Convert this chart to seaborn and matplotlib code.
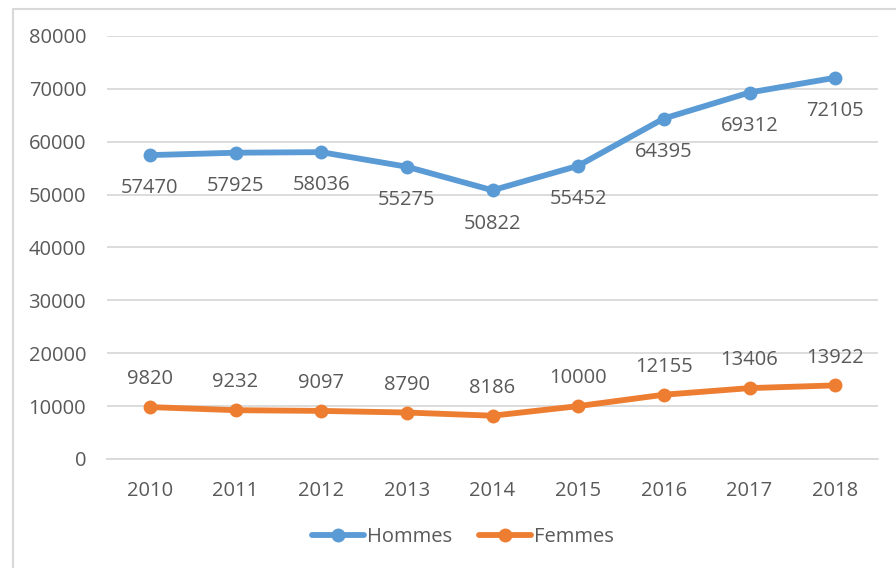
import pandas as pd
import seaborn as sns
import matplotlib.pyplot as plt
from matplotlib.patches import Rectangle

# Data
annees = [2010, 2011, 2012, 2013, 2014, 2015, 2016, 2017, 2018]
hommes = [57470, 57925, 58036, 55275, 50822, 55452, 64395, 69312, 72105]
femmes = [9820, 9232, 9097, 8790, 8186, 10000, 12155, 13406, 13922]

df = pd.DataFrame({
    "annee": annees * 2,
    "valeur": hommes + femmes,
    "sexe": ["Hommes"] * len(annees) + ["Femmes"] * len(annees),
})

sns.set_style("white")
plt.rcParams['font.family'] = ['Open Sans', 'DejaVu Sans']
text_col = "#595959"
grid_col = "#D9D9D9"
colors = {"Hommes": "#5B9BD5", "Femmes": "#ED7D31"}

fig = plt.figure(figsize=(8.96, 5.68), dpi=100)
ax = fig.add_axes([107 / 896, 1 - 459 / 568, (878 - 107) / 896, (459 - 36) / 568])

sns.lineplot(data=df, x="annee", y="valeur", hue="sexe", palette=colors,
             marker="o", markersize=10, markeredgewidth=0, linewidth=4.2,
             ax=ax, legend=True)

# data labels
for x, y in zip(annees, hommes):
    ax.annotate(f"{y}", (x, y), xytext=(0, -24), textcoords="offset points",
                ha="center", va="center", fontsize=14.5, color=text_col)
for x, y in zip(annees, femmes):
    ax.annotate(f"{y}", (x, y), xytext=(0, 20), textcoords="offset points",
                ha="center", va="center", fontsize=14.5, color=text_col)

ax.set_xlim(2009.5, 2018.5)
ax.set_ylim(0, 80000)
ax.set_yticks(range(0, 80001, 10000))
ax.set_xticks(annees)
ax.set_xticklabels([str(a) for a in annees])
ax.set_xlabel("")
ax.set_ylabel("")
ax.grid(axis="y", color=grid_col, linewidth=1.3)
ax.set_axisbelow(True)
for s in ["top", "right", "left"]:
    ax.spines[s].set_visible(False)
ax.spines["bottom"].set_color(grid_col)
ax.spines["bottom"].set_linewidth(1.3)
ax.tick_params(axis="both", length=0, labelsize=14.5, labelcolor=text_col)
ax.tick_params(axis="y", pad=15)
ax.tick_params(axis="x", pad=16)

handles, labels = ax.get_legend_handles_labels()
ax.legend(handles, labels, loc="center", bbox_to_anchor=(463 / 896, 1 - 537 / 568),
          bbox_transform=fig.transFigure, ncol=2, frameon=False, fontsize=14.5,
          labelcolor=text_col, handlelength=2.6, handletextpad=0.15, columnspacing=1.3)

# chart border
fig.patches.append(Rectangle((13 / 896, -0.1), 1.2, (1 - 9 / 568) + 0.1,
                             transform=fig.transFigure, fill=False,
                             edgecolor=grid_col, linewidth=1.5))

fig.savefig("out.png", dpi=100)
